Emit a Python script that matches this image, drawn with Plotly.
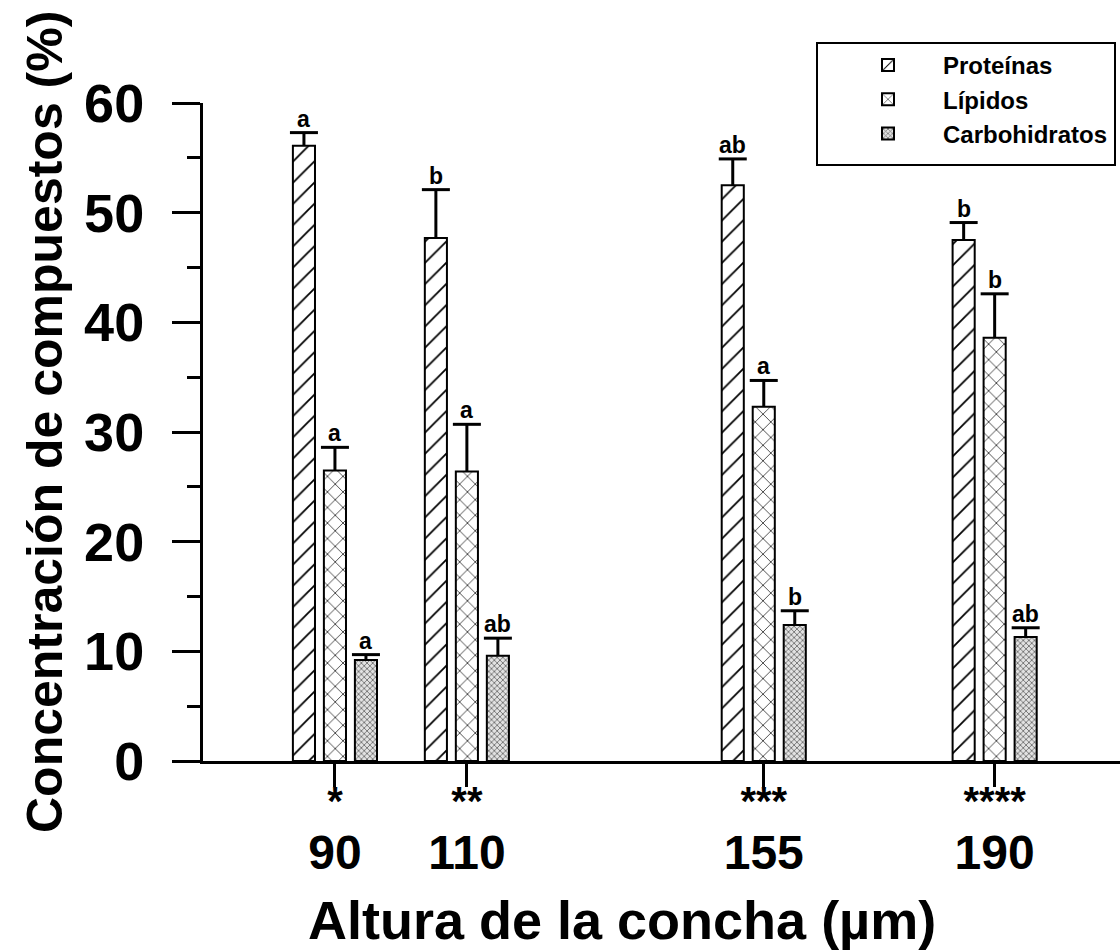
import plotly.graph_objects as go

# ---- data ----
heights = [90, 110, 155, 190]
height_labels = ["90", "110", "155", "190"]
stars = ["*", "**", "***", "****"]

series_names = ["Proteínas", "Lípidos", "Carbohidratos"]
proteinas = [56.1, 47.7, 52.5, 47.5]
proteinas_err = [1.2, 4.4, 2.4, 1.6]
lipidos = [26.5, 26.4, 32.3, 38.6]
lipidos_err = [2.1, 4.3, 2.4, 4.0]
carbohidratos = [9.2, 9.6, 12.4, 11.3]
carbohidratos_err = [0.5, 1.6, 1.3, 0.85]
proteinas_lbl = ["a", "b", "ab", "b"]
lipidos_lbl = ["a", "a", "a", "b"]
carbohidratos_lbl = ["a", "ab", "b", "ab"]

FONT = "Liberation Sans, Arial, sans-serif"
BAR_W = 3.35      # bar width in x units
STEP = 4.7        # distance between bar centres in a group

values = [proteinas, lipidos, carbohidratos]
errors = [proteinas_err, lipidos_err, carbohidratos_err]
letters = [proteinas_lbl, lipidos_lbl, carbohidratos_lbl]
patterns = [
    dict(shape="/", size=15, solidity=0.12, fgcolor="black", fgopacity=1, bgcolor="white", fillmode="overlay"),
    dict(shape="x", size=11, solidity=0.12, fgcolor="black", fgopacity=1, bgcolor="white", fillmode="overlay"),
    dict(shape="x", size=4, solidity=0.4, fgcolor="#707070", fgopacity=1, bgcolor="#e2e2e2", fillmode="replace"),
]

fig = go.Figure()
shapes = []
annotations = []
for i, (name, vals, errs, lbls, pat) in enumerate(zip(series_names, values, errors, letters, patterns)):
    off = (i - 1) * STEP
    fig.add_trace(go.Bar(
        x=heights, y=vals, name=name,
        width=BAR_W, offset=off - BAR_W / 2,
        marker=dict(color="white", line=dict(color="black", width=2), pattern=pat),
        legendgroup=name,
    ))
    for xv, v, e, l in zip(heights, vals, errs, lbls):
        xc = xv + off
        top = v + e
        shapes.append(dict(type="line", xref="x", yref="y", x0=xc, x1=xc, y0=v, y1=top,
                           line=dict(color="black", width=3), layer="above"))
        shapes.append(dict(type="line", xref="x", yref="y", xsizemode="pixel", xanchor=xc,
                           x0=-14, x1=14, y0=top, y1=top,
                           line=dict(color="black", width=3), layer="above"))
        annotations.append(dict(x=xc, y=top, xref="x", yref="y", text=l, showarrow=False,
                                yanchor="bottom", yshift=-1,
                                font=dict(family=FONT, size=23, color="black", weight="bold")))

# tick labels: significance stars above the shell height
tick_text = [f"<span style='font-size:40px'>{s}</span><br><span style='font-size:48px'>{h}</span>"
             for s, h in zip(stars, height_labels)]

annotations.append(dict(x=0.457, y=-0.242, xref="paper", yref="paper",
                        text="Altura de la concha (µm)", showarrow=False,
                        xanchor="center", yanchor="middle",
                        font=dict(family=FONT, size=54, color="black", weight="bold")))
annotations.append(dict(x=-0.1723, y=0.5152, xref="paper", yref="paper",
                        text="Concentración de compuestos (%)", showarrow=False, textangle=-90,
                        xanchor="center", yanchor="middle",
                        font=dict(family=FONT, size=50, color="black", weight="bold")))

# legend frame (paper coordinates)
shapes.append(dict(type="rect", xref="paper", yref="paper",
                   x0=(817 - 203) / 917, x1=(1115 - 203) / 917,
                   y0=(761 - 165) / 658, y1=(761 - 43) / 658,
                   line=dict(color="black", width=2), fillcolor="white", layer="below"))

fig.update_layout(
    width=1120, height=950,
    margin=dict(l=203, r=0, t=103, b=189),
    paper_bgcolor="white", plot_bgcolor="white",
    barmode="overlay",
    shapes=shapes,
    annotations=annotations,
    showlegend=True,
    legend=dict(x=(833 - 203) / 917, y=(761 - 43) / 658, xanchor="left", yanchor="top",
                borderwidth=0, bgcolor="rgba(0,0,0,0)",
                font=dict(family=FONT, size=24, color="black", weight="bold"),
                itemwidth=100, tracegroupgap=0),
    font=dict(family=FONT, color="black"),
)
fig.update_xaxes(range=[70, 209], showline=True, linewidth=3, linecolor="black",
                 showgrid=False, zeroline=False,
                 tickvals=heights, ticktext=tick_text,
                 ticks="outside", ticklen=23, tickwidth=3, tickcolor="black",
                 ticklabelstandoff=-21,
                 tickfont=dict(family=FONT, size=41, color="black", weight="bold"))
fig.update_yaxes(range=[0, 60], dtick=10, showline=True, linewidth=3, linecolor="black",
                 showgrid=False, zeroline=False,
                 ticks="outside", ticklen=28, tickwidth=3, tickcolor="black",
                 ticklabelstandoff=17,
                 minor=dict(dtick=5, ticks="outside", ticklen=13, tickwidth=3, tickcolor="black"),
                 tickfont=dict(family=FONT, size=54, color="black", weight="bold"))

fig.write_html("out.html")
